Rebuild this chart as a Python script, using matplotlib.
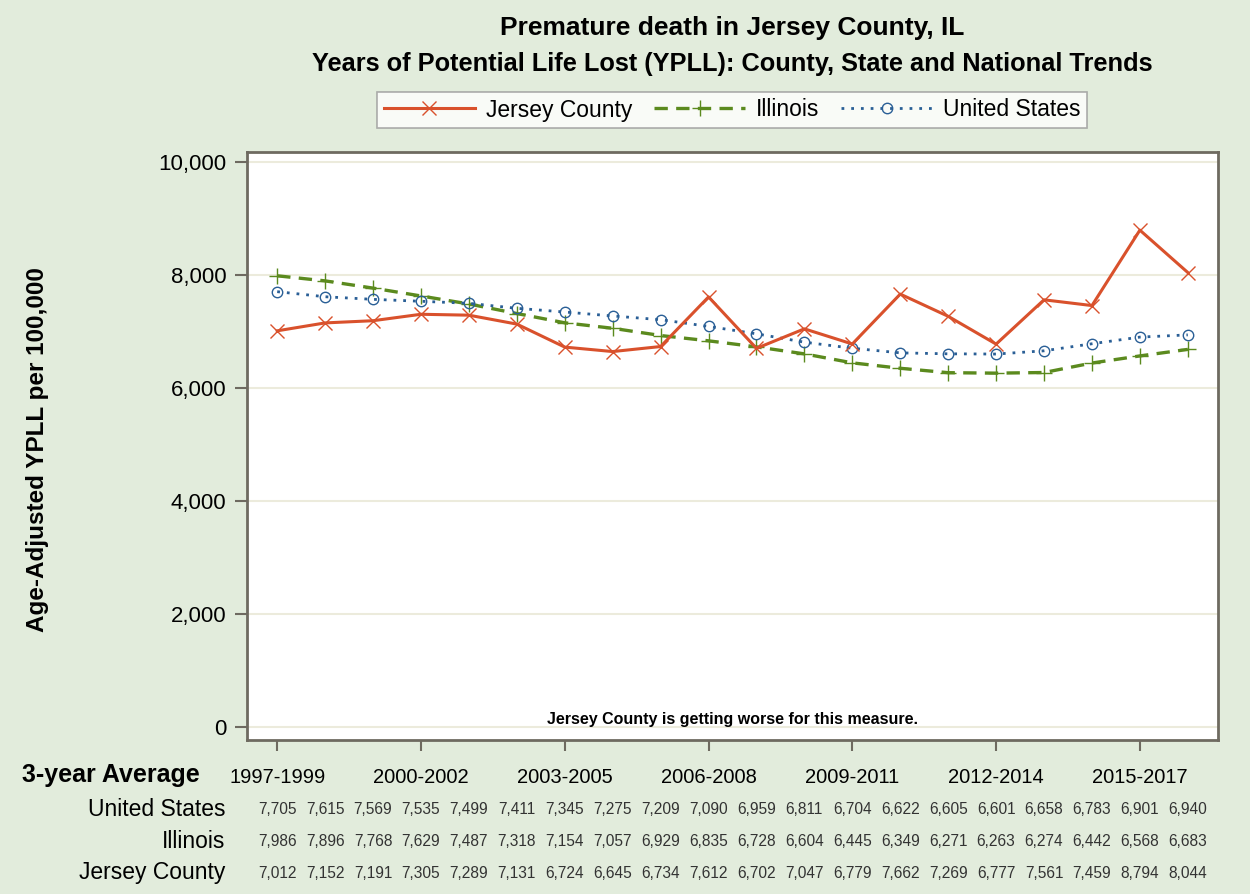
import matplotlib
matplotlib.use("Agg")
import matplotlib.pyplot as plt
from matplotlib.transforms import blended_transform_factory

plt.rcParams['font.family'] = ['Liberation Sans', 'DejaVu Sans']

# 3-year average periods
periods = ["1997-1999", "1998-2000", "1999-2001", "2000-2002", "2001-2003",
           "2002-2004", "2003-2005", "2004-2006", "2005-2007", "2006-2008",
           "2007-2009", "2008-2010", "2009-2011", "2010-2012", "2011-2013",
           "2012-2014", "2013-2015", "2014-2016", "2015-2017", "2016-2018"]

us = [7705, 7615, 7569, 7535, 7499, 7411, 7345, 7275, 7209, 7090,
      6959, 6811, 6704, 6622, 6605, 6601, 6658, 6783, 6901, 6940]
illinois = [7986, 7896, 7768, 7629, 7487, 7318, 7154, 7057, 6929, 6835,
            6728, 6604, 6445, 6349, 6271, 6263, 6274, 6442, 6568, 6683]
jersey = [7012, 7152, 7191, 7305, 7289, 7131, 6724, 6645, 6734, 7612,
          6702, 7047, 6779, 7662, 7269, 6777, 7561, 7459, 8794, 8044]

yticks = [0, 2000, 4000, 6000, 8000, 10000]

bg = '#e2ecdc'
c_jersey = '#d9512c'
c_il = '#5b8a1e'
c_us = '#2a5f96'
frame = '#6e6a60'

fig = plt.figure(figsize=(12.5, 8.94), dpi=100, facecolor=bg)
ax = fig.add_axes([247 / 1250, 1 - 740 / 894, (1218 - 247) / 1250, (740 - 152) / 894])
ax.set_facecolor('white')

x = list(range(len(periods)))
ax.plot(x, jersey, color=c_jersey, lw=2.2, marker='x', ms=10, mew=1.0,
        label='Jersey County', zorder=4)
ax.plot(x, illinois, color=c_il, lw=2.4, ls=(0, (4, 2.5)), marker='+', ms=11, mew=1.0,
        label='Illinois', zorder=3)
ax.plot(x, us, color=c_us, lw=2.0, ls=(0, (1, 2.5)), marker='o', ms=7.5, mew=1.0,
        mfc='none', label='United States', zorder=3)

ax.set_xlim(-0.63, 19.63)
ax.set_ylim(-230, 10177)
ax.set_yticks(yticks)
ax.set_yticklabels([f"{v:,}" for v in yticks], fontsize=16)
ax.yaxis.grid(True, color='#ecebdc', lw=1.5)
ax.set_axisbelow(True)

ax.set_xticks(x[::3])
ax.set_xticklabels(periods[::3], fontsize=14.5)
ax.tick_params(axis='x', length=8, width=1.5, color=frame, pad=12)
ax.tick_params(axis='y', length=9, width=1.5, color=frame, pad=6)
for s in ax.spines.values():
    s.set_color(frame)
    s.set_linewidth(2)

fig.text(38 / 1250, 1 - 450 / 894, "Age-Adjusted YPLL per 100,000", rotation=90,
         ha='center', va='center', fontsize=17.5, fontweight='bold')

ax.text(0.5, 0.022, "Jersey County is getting worse for this measure.",
        transform=ax.transAxes, ha='center', va='bottom', fontsize=11.5, fontweight='bold')

fig.text(732 / 1250, 1 - 28 / 894, "Premature death in Jersey County, IL",
         ha='center', va='center', fontsize=19, fontweight='bold')
fig.text(732 / 1250, 1 - 64 / 894, "Years of Potential Life Lost (YPLL): County, State and National Trends",
         ha='center', va='center', fontsize=18.3, fontweight='bold')

leg = fig.legend(loc='center', bbox_to_anchor=(732 / 1250, 1 - 110 / 894), ncol=3,
                 fontsize=16.5, frameon=True, fancybox=False, edgecolor='#999999',
                 handlelength=4.0, columnspacing=0.95, borderpad=0.3, handletextpad=0.45)
leg.get_frame().set_linewidth(1.2)

# Data table under the axis
fig.text(200 / 1250, 1 - 775 / 894, "3-year Average", ha='right', va='center',
         fontsize=18, fontweight='bold')
tr = blended_transform_factory(ax.transData, fig.transFigure)
rows = [("United States", us, 810), ("Illinois", illinois, 842), ("Jersey County", jersey, 873)]
for name, vals, ypix in rows:
    fig.text(225 / 1250, 1 - ypix / 894, name, ha='right', va='center', fontsize=16.5)
    for i, v in enumerate(vals):
        ax.text(i, 1 - ypix / 894, f"{v:,}", transform=tr,
                ha='center', va='center', fontsize=11.2, color='#333333')

fig.savefig("out.png", dpi=100, facecolor=bg)
